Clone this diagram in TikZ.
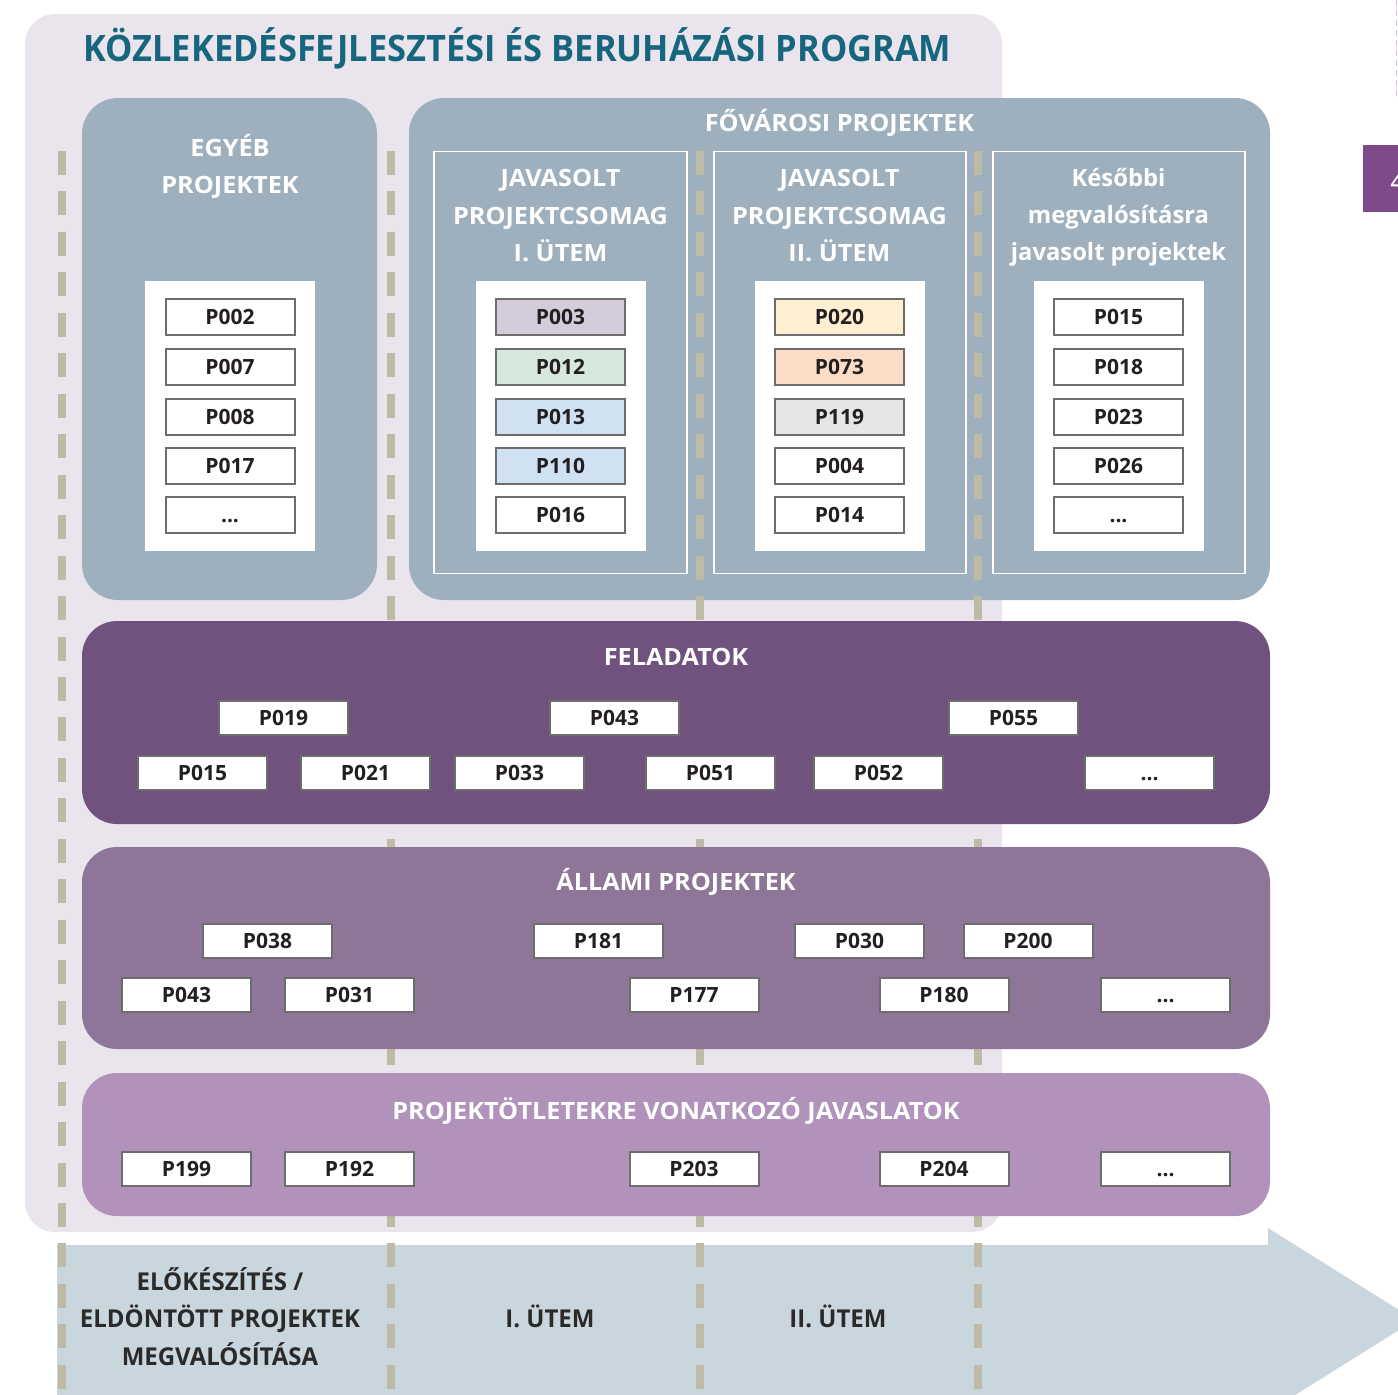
\documentclass[tikz,border=0pt]{standalone}
\usepackage{fontspec}
\setmainfont{Open Sans}
\newfontfamily\titlefont[FakeStretch=0.945]{Open Sans}
\newfontfamily\hdrfont[FakeStretch=1.06]{Open Sans}
\newfontfamily\botfont[FakeStretch=0.975]{Open Sans}
\definecolor{bglav}{HTML}{EAE5ED}
\definecolor{steel}{HTML}{9EB0BE}
\definecolor{feladat}{HTML}{6F527D}
\definecolor{allami}{HTML}{8E7699}
\definecolor{otlet}{HTML}{B092BA}
\definecolor{arrowc}{HTML}{C9D6DE}
\definecolor{dashc}{HTML}{BDBBA5}
\definecolor{titlec}{HTML}{17667F}
\definecolor{itemtext}{HTML}{231F20}
\definecolor{boxgray}{HTML}{6D6D6D}
\definecolor{cLav}{HTML}{D4CCDA}
\definecolor{cGreen}{HTML}{D6E8DD}
\definecolor{cBlue}{HTML}{D0E2F2}
\definecolor{cYel}{HTML}{FFEFD1}
\definecolor{cOra}{HTML}{FDDCC6}
\definecolor{cGray}{HTML}{E5E6E8}
\definecolor{tabc}{HTML}{7E4A89}
\definecolor{bottomtext}{HTML}{2B2A29}
\tikzset{
  itembox/.style={draw=boxgray, line width=1pt, fill=white, minimum width=64.5pt,
    minimum height=18pt, inner sep=0pt, text height=7.6pt, text depth=0pt,
    font=\fontsize{10.5}{12}\selectfont\bfseries, text=itemtext},
  rowbox/.style={itembox, minimum height=17pt},
  hdr/.style={anchor=base, inner sep=0pt, text=white, font=\hdrfont\fontsize{11.9}{14}\selectfont\bfseries},
  hdrlc/.style={anchor=base, inner sep=0pt, text=white, font=\fontsize{11.9}{14}\selectfont\bfseries},
  bottomlbl/.style={anchor=base, inner sep=0pt, text=bottomtext, font=\botfont\fontsize{12.3}{14}\selectfont\bfseries},
  phase/.style={line width=4pt, draw=dashc, dash pattern=on 12pt off 8.23pt},
  subframe/.style={draw=white, line width=0.8pt},
  panel/.style={fill=white}
}
\begin{document}
\begin{tikzpicture}[x=0.5pt,y=-0.5pt]
\clip (0,0) rectangle (1398,1394);
\fill[white] (0,0) rectangle (1398,1394);
% outer background
\fill[bglav, rounded corners=15pt] (25,14) rectangle (1002,1232);
% bottom arrow
\fill[arrowc] (57,1245) -- (1268,1245) -- (1268,1228) -- (1415,1320) -- (1268,1412) -- (1268,1395) -- (57,1395) -- cycle;
% top boxes
\fill[steel, rounded corners=18pt] (82,98) rectangle (377,600);
\fill[steel, rounded corners=17.5pt] (409,98) rectangle (1270,600);
% phase dashed lines
\foreach \xx in {62,391,700,978}{
  \draw[phase] (\xx,151) -- (\xx,1400);
}
% purple bands
\fill[feladat, rounded corners=17.5pt] (82,621) rectangle (1270,824);
\fill[allami, rounded corners=17.5pt] (82,847) rectangle (1270,1049);
\fill[otlet, rounded corners=17.5pt] (82,1073) rectangle (1270,1216);
% title
\node[anchor=base west, inner sep=0pt, text=titlec, font=\titlefont\fontsize{18.2}{20}\selectfont\bfseries] (title) at (83,61) {KÖZLEKEDÉSFEJLESZTÉSI ÉS BERUHÁZÁSI PROGRAM};
% EGYÉB PROJEKTEK
\node[hdr] (eg1) at (230,156.5) {EGYÉB};
\node[hdr] (eg2) at (230,193.5) {PROJEKTEK};
\fill[panel] (145,281) rectangle (315,551);
\node[itembox] (a1) at (230,317) {P002};
\node[itembox] (a2) at (230,367) {P007};
\node[itembox] (a3) at (230,417) {P008};
\node[itembox] (a4) at (230,466) {P017};
\node[itembox] (a5) at (230,515) {...};
% FŐVÁROSI PROJEKTEK
\node[hdr] (fov) at (839.5,131.5) {FŐVÁROSI PROJEKTEK};
\draw[subframe] (434,151.5) rectangle (687,573.5);
\draw[subframe] (714,151.5) rectangle (966,573.5);
\draw[subframe] (993,151.5) rectangle (1245,573.5);
\node[hdr] (j11) at (560.5,186.5) {JAVASOLT};
\node[hdr] (j12) at (560.5,224.5) {PROJEKTCSOMAG};
\node[hdr] (j13) at (560.5,261.5) {I. ÜTEM};
\node[hdr] (j21) at (839.5,186.5) {JAVASOLT};
\node[hdr] (j22) at (839.5,224.5) {PROJEKTCSOMAG};
\node[hdr] (j23) at (839.5,261.5) {II. ÜTEM};
\node[hdrlc] (k1) at (1118.5,186.5) {Későbbi};
\node[hdrlc] (k2) at (1118.5,223.5) {megvalósításra};
\node[hdrlc] (k3) at (1118.5,260.5) {javasolt projektek};
\fill[panel] (476,281) rectangle (646,551);
\fill[panel] (755,281) rectangle (925,551);
\fill[panel] (1034,281) rectangle (1204,551);
\node[itembox, fill=cLav] (b1) at (560.5,317) {P003};
\node[itembox, fill=cGreen] (b2) at (560.5,367) {P012};
\node[itembox, fill=cBlue] (b3) at (560.5,417) {P013};
\node[itembox, fill=cBlue] (b4) at (560.5,466) {P110};
\node[itembox] (b5) at (560.5,515) {P016};
\node[itembox, fill=cYel] (c1) at (839.5,317) {P020};
\node[itembox, fill=cOra] (c2) at (839.5,367) {P073};
\node[itembox, fill=cGray] (c3) at (839.5,417) {P119};
\node[itembox] (c4) at (839.5,466) {P004};
\node[itembox] (c5) at (839.5,515) {P014};
\node[itembox] (d1) at (1118.5,317) {P015};
\node[itembox] (d2) at (1118.5,367) {P018};
\node[itembox] (d3) at (1118.5,417) {P023};
\node[itembox] (d4) at (1118.5,466) {P026};
\node[itembox] (d5) at (1118.5,515) {...};
% FELADATOK
\node[hdr] (fel) at (676,665.5) {FELADATOK};
\node[rowbox] (f1) at (283.5,718) {P019};
\node[rowbox] (f2) at (614.5,718) {P043};
\node[rowbox] (f3) at (1013.5,718) {P055};
\node[rowbox] (f4) at (202.5,773) {P015};
\node[rowbox] (f5) at (365.5,773) {P021};
\node[rowbox] (f6) at (519.5,773) {P033};
\node[rowbox] (f7) at (710.5,773) {P051};
\node[rowbox] (f8) at (878.5,773) {P052};
\node[rowbox] (f9) at (1149.5,773) {...};
% ÁLLAMI PROJEKTEK
\node[hdr] (all) at (676,890) {ÁLLAMI PROJEKTEK};
\node[rowbox] (g1) at (267.5,941) {P038};
\node[rowbox] (g2) at (598.5,941) {P181};
\node[rowbox] (g3) at (859.5,941) {P030};
\node[rowbox] (g4) at (1028,941) {P200};
\node[rowbox] (g5) at (186.5,995) {P043};
\node[rowbox] (g6) at (349.5,995) {P031};
\node[rowbox] (g7) at (694,995) {P177};
\node[rowbox] (g8) at (944,995) {P180};
\node[rowbox] (g9) at (1165.5,995) {...};
% PROJEKTÖTLETEKRE
\node[hdr] (otl) at (676,1119) {PROJEKTÖTLETEKRE VONATKOZÓ JAVASLATOK};
\node[rowbox] (h1) at (186.5,1169) {P199};
\node[rowbox] (h2) at (349.5,1169) {P192};
\node[rowbox] (h3) at (694,1169) {P203};
\node[rowbox] (h4) at (944,1169) {P204};
\node[rowbox] (h5) at (1165.5,1169) {...};
% bottom phase labels
\node[bottomlbl] (p1) at (220,1290) {ELŐKÉSZÍTÉS /};
\node[bottomlbl] (p2) at (220,1327.5) {ELDÖNTÖTT PROJEKTEK};
\node[bottomlbl] (p3) at (220,1365) {MEGVALÓSÍTÁSA};
\node[bottomlbl] (p4) at (550,1327.5) {I. ÜTEM};
\node[bottomlbl] (p5) at (838,1327.5) {II. ÜTEM};
% page tab at right edge
\fill[tabc] (1363,145) rectangle (1400,212);
\node[anchor=base west, inner sep=0pt, text=white, font=\fontsize{14}{16}\selectfont] (tab) at (1390,191) {4};
\draw[draw=bglav!80!tabc, line width=0.6pt, dash pattern=on 3pt off 2pt] (1396.5,0) -- (1396.5,100);
\end{tikzpicture}
\end{document}
